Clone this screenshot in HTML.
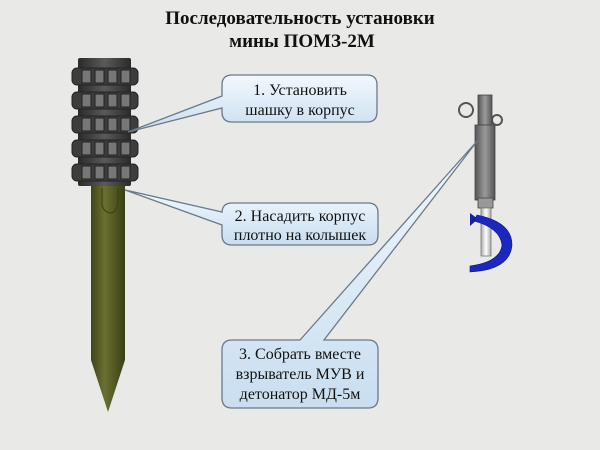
<!DOCTYPE html>
<html><head><meta charset="utf-8"><style>
html,body{margin:0;padding:0;width:600px;height:450px;overflow:hidden;background:#e9e9e7}
svg{display:block}
</style></head><body>
<svg width="600" height="450" viewBox="0 0 600 450" xmlns="http://www.w3.org/2000/svg">
<defs>
<linearGradient id="bx" x1="0" y1="0" x2="0" y2="1"><stop offset="0" stop-color="#f2f8fd"/><stop offset="1" stop-color="#c9def0"/></linearGradient>
<linearGradient id="gr" x1="0" y1="0" x2="1" y2="0"><stop offset="0" stop-color="#2a2a2a"/><stop offset="0.5" stop-color="#5a5a5a"/><stop offset="1" stop-color="#2a2a2a"/></linearGradient>
<linearGradient id="ol" x1="0" y1="0" x2="1" y2="0"><stop offset="0" stop-color="#3f4418"/><stop offset="0.4" stop-color="#6b7030"/><stop offset="1" stop-color="#3a3e16"/></linearGradient>
<linearGradient id="fz" x1="0" y1="0" x2="1" y2="0"><stop offset="0" stop-color="#555"/><stop offset="0.5" stop-color="#9a9a9a"/><stop offset="1" stop-color="#555"/></linearGradient>
<linearGradient id="wt" x1="0" y1="0" x2="1" y2="0"><stop offset="0" stop-color="#aaa"/><stop offset="0.5" stop-color="#fff"/><stop offset="1" stop-color="#aaa"/></linearGradient>
</defs>
<text x="300" y="24" text-anchor="middle" font-family="Liberation Serif,serif" font-weight="bold" font-size="19" fill="#111">Последовательность  установки</text>
<text x="302" y="47" text-anchor="middle" font-family="Liberation Serif,serif" font-weight="bold" font-size="19" fill="#111">мины ПОМЗ-2М</text>

<!-- stake -->
<path d="M91,185 H125 V360 L108,412 L91,360 Z" fill="url(#ol)"/>
<path d="M102,188 V205 Q104,213 112,213 Q118,210 118,200 V188" fill="none" stroke="#3a3e16" stroke-width="1"/>
<!-- grenade body -->
<rect x="78" y="58" width="53" height="128" fill="url(#gr)" rx="2"/>
<g fill="#3d3d3d" stroke="#222" stroke-width="1">
<rect x="72" y="68" width="66" height="17" rx="5"/>
<rect x="72" y="92" width="66" height="17" rx="5"/>
<rect x="72" y="116" width="66" height="17" rx="5"/>
<rect x="72" y="140" width="66" height="17" rx="5"/>
<rect x="72" y="164" width="66" height="17" rx="5"/>
</g>
<g fill="#777" stroke="#222" stroke-width="1">
<rect x="82" y="70" width="9" height="13"/><rect x="95" y="70" width="9" height="13"/><rect x="108" y="70" width="9" height="13"/><rect x="121" y="70" width="9" height="13"/>
<rect x="82" y="94" width="9" height="13"/><rect x="95" y="94" width="9" height="13"/><rect x="108" y="94" width="9" height="13"/><rect x="121" y="94" width="9" height="13"/>
<rect x="82" y="118" width="9" height="13"/><rect x="95" y="118" width="9" height="13"/><rect x="108" y="118" width="9" height="13"/><rect x="121" y="118" width="9" height="13"/>
<rect x="82" y="142" width="9" height="13"/><rect x="95" y="142" width="9" height="13"/><rect x="108" y="142" width="9" height="13"/><rect x="121" y="142" width="9" height="13"/>
<rect x="82" y="166" width="9" height="13"/><rect x="95" y="166" width="9" height="13"/><rect x="108" y="166" width="9" height="13"/><rect x="121" y="166" width="9" height="13"/>
</g>

<!-- fuse -->
<circle cx="466" cy="110" r="7" fill="none" stroke="#555" stroke-width="2"/>
<circle cx="497" cy="120" r="5" fill="none" stroke="#555" stroke-width="2"/>
<rect x="478" y="95" width="14" height="30" fill="url(#fz)" stroke="#444" stroke-width="0.8"/>
<rect x="475" y="125" width="20" height="75" fill="url(#fz)" stroke="#444" stroke-width="0.8"/>
<rect x="478" y="198" width="15" height="10" fill="#999" stroke="#444" stroke-width="0.8"/>
<rect x="481" y="208" width="10" height="48" fill="url(#wt)" stroke="#777" stroke-width="0.8"/>
<path d="M478,219 L470,213 L470,226 Z" fill="#1620b0"/>
<path d="M477,215 Q512,222 512,245 Q510,270 470,272 L470,266 Q500,262 502,245 Q500,228 474,221 Z" fill="#1a28c0" stroke="#0c1280" stroke-width="0.6"/>

<!-- callouts -->
<g fill="url(#bx)" stroke="#6a7a88" stroke-width="1.3">
<path d="M232,75 H367 Q377,75 377,85 V112 Q377,122 367,122 H232 Q222,122 222,112 V108 L128,132 L222,96 V85 Q222,75 232,75 Z"/>
<path d="M232,203 H368 Q378,203 378,213 V235 Q378,245 368,245 H232 Q222,245 222,235 V225 L125,190 L222,212 V213 Q222,203 232,203 Z"/>
<path d="M232,340 H300 L478,140 L324,340 H368 Q378,340 378,350 V398 Q378,408 368,408 H232 Q222,408 222,398 V350 Q222,340 232,340 Z"/>
</g>
<g font-family="Liberation Serif,serif" font-size="16" fill="#111" text-anchor="middle">
<text x="300" y="95">1. Установить</text>
<text x="300" y="115">шашку в корпус</text>
<text x="300" y="221">2. Насадить корпус</text>
<text x="300" y="240">плотно на колышек</text>
<text x="300" y="359">3. Собрать вместе</text>
<text x="300" y="379">взрыватель МУВ и</text>
<text x="300" y="399">детонатор МД-5м</text>
</g>
</svg>
</body></html>
